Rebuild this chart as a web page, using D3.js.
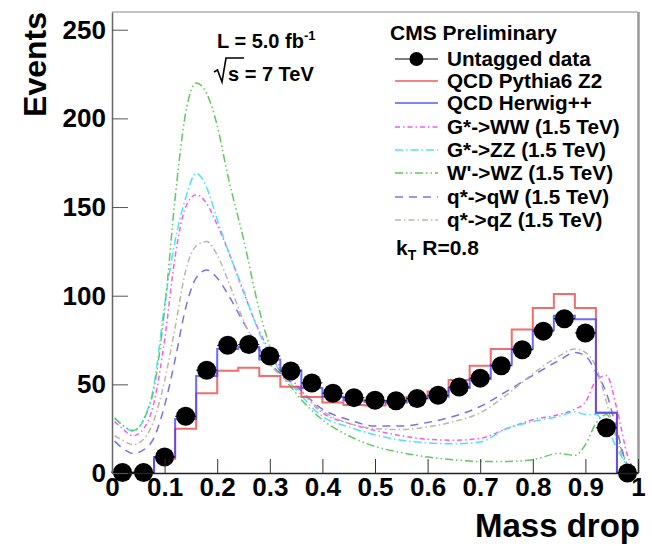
<!DOCTYPE html>
<html><head><meta charset="utf-8">
<script src="https://cdn.jsdelivr.net/npm/d3@7"></script>
<style>
body{margin:0;background:#fff}
svg text{font-family:"Liberation Sans",Arial,Helvetica,sans-serif;font-weight:bold;fill:#000}
</style>
</head><body>
<svg id="c" width="652" height="546"></svg>
<script>
// ---- data ----
const binCenters = [0.02,0.06,0.10,0.14,0.18,0.22,0.26,0.30,0.34,0.38,0.42,0.46,0.50,0.54,0.58,0.62,0.66,0.70,0.74,0.78,0.82,0.86,0.90,0.94,0.98];
const binWidth = 0.04;
const dataValues   = [0.3,0.3,9,32,58,72,72.5,66,57.5,50.8,45,42.5,41,40.8,42,43.8,48.5,53.5,60.5,69.5,80,87,79,25.5,0];
const herwigValues = [0.3,0.3,9,30.5,54.7,70,71,64,58,48,43,41,40,39.7,42,43,48,53,61,70,80.6,88.7,86.7,34,0];
const pythiaValues = [0.3,0.3,8,25,45,57.7,59.4,54.7,48.7,42.8,39.7,38.3,38,40,43,45.9,52.5,60.5,70,81,93,101,93,34,0];

const sigX     = [0.005,0.02,0.04,0.06,0.08,0.10,0.12,0.14,0.16,0.18,0.20,0.22,0.25,0.28,0.31,0.35,0.40,0.45,0.50,0.55,0.60,0.65,0.70,0.75,0.80,0.85,0.88,0.90,0.92,0.94,0.96,0.98,0.995];
const wwValues = [29,25,21,25,40,75,122,150,157,152,140,126,102,80,64,50,34,28,24,21,19,18.5,19.5,25,30,33,36,40,52,55,36,10,0];
const zzValues = [31,27,23.5,30,50,95,131,155,169,161,143,126,103,79,62,47,32,26,21.5,18.5,17,16.5,17.5,25,29,32,34.5,33,33,26,14,4,0];
const wzValues = [31,27,24,30,48,92,155,203,220,214,196,168,132,92,63,45,30,21,15,11.5,9,7.5,6.5,6.5,7.5,11,10,16,28,33,20,5,0];
const qwValues = [18,14,11,13,20,38,64,93,110,114.5,110,101,85,70,59,49,36,30,26.5,26.5,28.5,32,37.5,46,55,63.5,68,66,57,45,24,4,0];
const qzValues = [21,18.5,16,19,30,52,82,114,128,130.5,123,109,86,69,58,48,35,28,25,24.5,26,29,34,44,56,66,70,68,60,40,18,4,0];

const xMajorTicks = [0,0.1,0.2,0.3,0.4,0.5,0.6,0.7,0.8,0.9,1.0];
const xTickLabels = ["0","0.1","0.2","0.3","0.4","0.5","0.6","0.7","0.8","0.9","1"];
const yMajorTicks = [0,50,100,150,200,250];
const yTickLabels = ["0","50","100","150","200","250"];

const legendLabels = ["Untagged data","QCD Pythia6 Z2","QCD Herwig++","G*->WW (1.5 TeV)","G*->ZZ (1.5 TeV)","W'->WZ (1.5 TeV)","q*->qW (1.5 TeV)","q*->qZ (1.5 TeV)"];

// ---- layout ----
const svg = d3.select("#c");
svg.append("rect").attr("width",652).attr("height",546).attr("fill","#fff");
const X0=112, X1=638, Y0=473, Y1=12;
const x = d3.scaleLinear().domain([0,1]).range([X0,X1]);
const y = d3.scaleLinear().domain([0,260]).range([Y0,Y1]);

// frame
svg.append("line").attr("x1",X0).attr("x2",X1).attr("y1",Y1).attr("y2",Y1).attr("stroke","#8a8a8a").attr("stroke-width",1);
svg.append("line").attr("x1",X1+0.5).attr("x2",X1+0.5).attr("y1",Y1).attr("y2",Y0).attr("stroke","#999").attr("stroke-width",2.5);

// signal curves
const sigStyles = [
  {vals:wwValues, color:"rgb(245,90,245)", dash:"5,3,1.5,3"},
  {vals:zzValues, color:"rgb(80,225,250)", dash:"8,3,1.5,3"},
  {vals:wzValues, color:"rgb(95,200,95)", dash:"8,3,1.5,3,1.5,3"},
  {vals:qwValues, color:"rgb(120,115,235)", dash:"8,6"},
  {vals:qzValues, color:"rgb(190,180,170)", dash:"6,3,1.5,3"}
];
const sigLine = d3.line().x(d=>x(d[0])).y(d=>y(Math.max(0,d[1]))).curve(d3.curveMonotoneX);
sigStyles.forEach(s=>{
  svg.append("path").attr("d", sigLine(sigX.map((xx,i)=>[xx,s.vals[i]])))
    .attr("fill","none").attr("stroke",s.color).attr("stroke-width",1.5).attr("stroke-dasharray",s.dash);
});

// histograms
function stepPts(vals){
  const pts=[[0,0]];
  vals.forEach((v,i)=>{const lo=binCenters[i]-binWidth/2, hi=binCenters[i]+binWidth/2; pts.push([lo,v]); pts.push([hi,v]);});
  pts.push([1,0]);
  return pts;
}
const hLine = d3.line().x(d=>x(d[0])).y(d=>y(d[1]));
svg.append("path").attr("d",hLine(stepPts(pythiaValues))).attr("fill","none")
  .attr("stroke","rgb(240,70,70)").attr("stroke-opacity",0.8).attr("stroke-width",2);
svg.append("path").attr("d",hLine(stepPts(herwigValues))).attr("fill","none")
  .attr("stroke","rgb(70,70,255)").attr("stroke-opacity",0.8).attr("stroke-width",2);

// data points
const dg = svg.append("g");
binCenters.forEach((c,i)=>{
  dg.append("line").attr("x1",x(c-binWidth/2)).attr("x2",x(c+binWidth/2)).attr("y1",y(dataValues[i])).attr("y2",y(dataValues[i])).attr("stroke","#000").attr("stroke-width",1);
  dg.append("circle").attr("cx",x(c)).attr("cy",y(dataValues[i])).attr("r",9.5).attr("fill","#000");
});

// axes
const fs = 26;
const xMinor = d3.range(0,1.0001,0.02);
const yMinor = d3.range(0,260,10);
const gx = svg.append("g").attr("transform",`translate(0,${Y0})`);
gx.call(d3.axisBottom(x).tickValues(xMinor).tickSize(-8).tickSizeOuter(0).tickFormat(""));
gx.call(d3.axisBottom(x).tickValues(xMajorTicks).tickSize(-14).tickSizeOuter(0).tickPadding(5)
  .tickFormat((d,i)=>xTickLabels[i]));
gx.selectAll("text").style("font-size",fs+"px");
gx.selectAll(".domain").attr("stroke","#222").attr("stroke-width",1.5);
gx.selectAll(".tick line").attr("stroke","#333");

const gy = svg.append("g").attr("transform",`translate(${X0},0)`);
gy.call(d3.axisLeft(y).tickValues(yMinor).tickSize(-8).tickSizeOuter(0).tickFormat(""));
gy.call(d3.axisLeft(y).tickValues(yMajorTicks).tickSize(-16).tickSizeOuter(0).tickPadding(6)
  .tickFormat((d,i)=>yTickLabels[i]));
gy.selectAll("text").style("font-size",fs+"px");
gy.selectAll(".domain").attr("stroke","#666").attr("stroke-width",1.5);
gy.selectAll(".tick line").attr("stroke","#555");

// axis titles
svg.append("text").attr("transform","translate(46,12) rotate(-90)").attr("text-anchor","end")
  .style("font-size","32px").text("Events");
svg.append("text").attr("x",640).attr("y",537).attr("text-anchor","end")
  .style("font-size","33px").text("Mass drop");

// annotations
const t1 = svg.append("text").attr("x",217).attr("y",48).style("font-size","20px");
t1.append("tspan").text("L = 5.0 fb");
t1.append("tspan").attr("dy",-8).style("font-size","13px").text("-1");
svg.append("path").attr("d","M214,72 L217.5,70 L222,82 L226,58 L244,58").attr("fill","none").attr("stroke","#000").attr("stroke-width",1.6);
svg.append("text").attr("x",228).attr("y",81).style("font-size","20px").text("s = 7 TeV");

// legend
svg.append("text").attr("x",390).attr("y",40).style("font-size","21px").text("CMS Preliminary");
const rowY = [59,81,103,127,150,173,197,220];
const lg = svg.append("g");
const legStyles = [
  {color:"#000", dash:null, w:1.2},
  {color:"rgb(240,90,90)", dash:null, w:1.5},
  {color:"rgb(90,90,255)", dash:null, w:1.5},
  {color:sigStyles[0].color, dash:sigStyles[0].dash, w:1.5},
  {color:sigStyles[1].color, dash:sigStyles[1].dash, w:1.5},
  {color:sigStyles[2].color, dash:sigStyles[2].dash, w:1.5},
  {color:sigStyles[3].color, dash:sigStyles[3].dash, w:1.5},
  {color:sigStyles[4].color, dash:sigStyles[4].dash, w:1.5}
];
legendLabels.forEach((lab,i)=>{
  const st = legStyles[i];
  const ln = lg.append("line").attr("x1",395).attr("x2",438).attr("y1",rowY[i]).attr("y2",rowY[i])
    .attr("stroke",st.color).attr("stroke-width",st.w);
  if(st.dash) ln.attr("stroke-dasharray",st.dash);
  if(i===0) lg.append("circle").attr("cx",416.5).attr("cy",rowY[i]).attr("r",7).attr("fill","#000");
  lg.append("text").attr("x",447).attr("y",rowY[i]+7).style("font-size","20.7px").text(lab);
});
const kt = svg.append("text").attr("x",396).attr("y",255).style("font-size","21px");
kt.append("tspan").text("k");
kt.append("tspan").attr("dy",5).style("font-size","14px").text("T");
kt.append("tspan").attr("dy",-5).attr("dx",6).text("R=0.8");
</script>
</body></html>
